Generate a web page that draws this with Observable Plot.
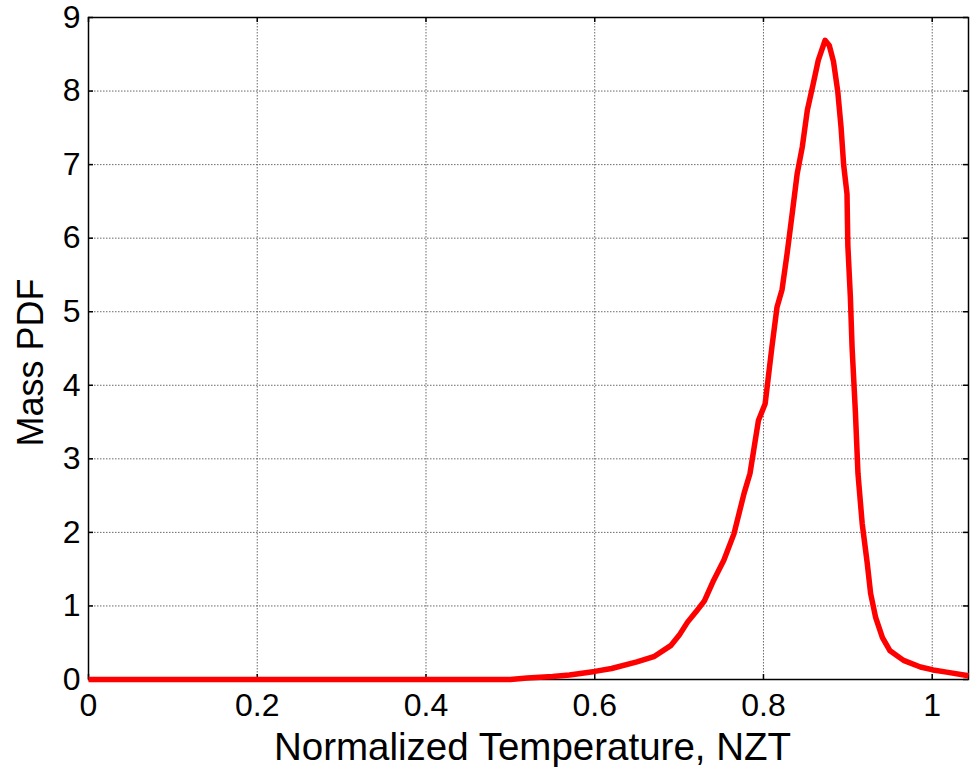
<!DOCTYPE html>
<html>
<head>
<meta charset="utf-8">
<script src="https://cdn.jsdelivr.net/npm/d3@7"></script>
<script src="https://cdn.jsdelivr.net/npm/@observablehq/plot@0.6"></script>
<style>
  html, body { margin: 0; padding: 0; background: #fff; }
</style>
</head>
<body>
<div id="chart"></div>
<script>
// Data
const nzt = [0, 0.50, 0.52, 0.55, 0.57, 0.60, 0.62, 0.65, 0.67, 0.69, 0.70, 0.71, 0.72, 0.73, 0.741, 0.753, 0.765, 0.777, 0.784, 0.794, 0.802, 0.810, 0.816, 0.822, 0.828, 0.834, 0.840, 0.846, 0.852, 0.859, 0.865, 0.873, 0.878, 0.883, 0.888, 0.892, 0.895, 0.899, 0.900, 0.903, 0.905, 0.909, 0.912, 0.917, 0.923, 0.927, 0.933, 0.941, 0.950, 0.966, 0.986, 1.001, 1.017, 1.043];
const pdf = [0, 0.0, 0.02, 0.04, 0.06, 0.11, 0.15, 0.24, 0.31, 0.46, 0.60, 0.78, 0.92, 1.07, 1.35, 1.62, 1.98, 2.53, 2.80, 3.52, 3.75, 4.52, 5.06, 5.30, 5.79, 6.33, 6.88, 7.24, 7.74, 8.10, 8.42, 8.69, 8.62, 8.40, 8.00, 7.50, 7.00, 6.60, 5.90, 5.20, 4.52, 3.62, 2.80, 2.12, 1.58, 1.17, 0.84, 0.57, 0.39, 0.26, 0.17, 0.13, 0.10, 0.05];

const xTicks = [0, 0.2, 0.4, 0.6, 0.8, 1];
const xTickLabels = ["0", "0.2", "0.4", "0.6", "0.8", "1"];
const yTicks = [0, 1, 2, 3, 4, 5, 6, 7, 8, 9];
const yTickLabels = ["0", "1", "2", "3", "4", "5", "6", "7", "8", "9"];
const xLabel = "Normalized Temperature, NZT";
const yLabel = "Mass PDF";

const points = nzt.map((x, i) => ({x, y: pdf[i]}));

const W = 972, H = 767;
const mL = 88, mR = 4, mT = 17, mB = 88;
const pw = W - mL - mR, ph = H - mT - mB;

const chart = Plot.plot({
  width: W,
  height: H,
  marginLeft: mL,
  marginRight: mR,
  marginTop: mT,
  marginBottom: mB,
  style: {fontFamily: "'Liberation Sans', Arial, Helvetica, sans-serif", background: "#fff", color: "#000"},
  x: {domain: [0, 1.043]},
  y: {domain: [0, 9]},
  marks: [
    Plot.gridX(xTicks, {stroke: "#444", strokeOpacity: 0.8, strokeDasharray: "1.5,1.5", strokeWidth: 1}),
    Plot.gridY(yTicks, {stroke: "#444", strokeOpacity: 0.8, strokeDasharray: "1.5,1.5", strokeWidth: 1}),
    Plot.frame({stroke: "#000", strokeWidth: 1.5}),
    // inward ticks
    Plot.tickX(xTicks, {x: d => d, stroke: "#000", strokeWidth: 1.5, insetTop: ph - 5}),
    Plot.tickX(xTicks, {x: d => d, stroke: "#000", strokeWidth: 1.5, insetBottom: ph - 5}),
    Plot.tickY(yTicks, {y: d => d, stroke: "#000", strokeWidth: 1.5, insetRight: pw - 5}),
    Plot.tickY(yTicks, {y: d => d, stroke: "#000", strokeWidth: 1.5, insetLeft: pw - 5}),
    Plot.axisX(xTicks, {anchor: "bottom", tickSize: 0, tickPadding: 14, fontSize: 32, label: null,
      tickFormat: d => xTickLabels[xTicks.indexOf(d)], fill: "#000"}),
    Plot.axisY(yTicks, {anchor: "left", tickSize: 0, tickPadding: 8, fontSize: 32, label: null,
      tickFormat: d => yTickLabels[yTicks.indexOf(d)], fill: "#000"}),
    Plot.text([xLabel], {frameAnchor: "bottom", text: d => d, dy: 80, dx: 4, lineAnchor: "bottom", textAnchor: "middle", fontSize: 38.5, fill: "#000"}),
    Plot.text([yLabel], {frameAnchor: "left", text: d => d, rotate: -90, dx: -46, dy: 14, lineAnchor: "bottom", textAnchor: "middle", fontSize: 36, fill: "#000"}),
    Plot.line(points, {x: "x", y: "y", stroke: "#ff0000", strokeWidth: 5.5, strokeLinejoin: "round", strokeLinecap: "butt"})
  ]
});
document.getElementById("chart").appendChild(chart);
</script>
</body>
</html>
